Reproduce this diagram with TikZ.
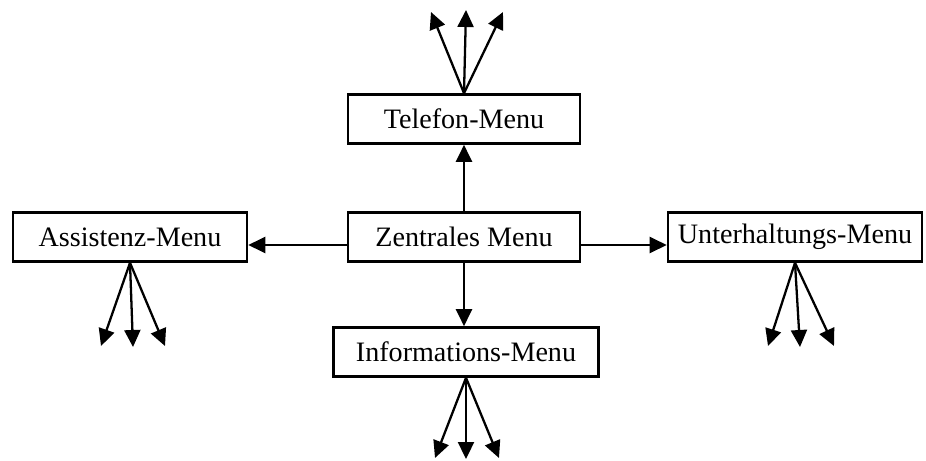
\documentclass[tikz,border=0pt]{standalone}
\usepackage{fontspec}
\setmainfont{Liberation Serif}
\usetikzlibrary{arrows.meta}

\tikzset{
  menubox/.style={draw, line width=1.5pt, minimum height=0.98cm, inner sep=2pt,
    font=\fontsize{16}{18}\selectfont},
  pfeil/.style={line width=1.3pt, -{Triangle[length=0.34cm,width=0.32cm]}}
}

\begin{document}
\begin{tikzpicture}[x=0.02cm, y=-0.02cm]
			\useasboundingbox (0,0) rectangle (926,460);
			
			% Draw the menu boxes
			\node[menubox, minimum width=4.64cm] (zentral) at (464,237) {Zentrales Menu};
			\node[menubox, minimum width=4.64cm] (telefon) at (464,119) {Telefon-Menu};
			\node[menubox, minimum width=5.3cm] (info) at (466,352) {Informations-Menu};
			\node[menubox, minimum width=4.68cm] (assist) at (130,237) {Assistenz-Menu};
			\node[menubox, minimum width=5.08cm] (unter) at (795,237) {Unterhaltungs-Menu};
			
			% Arrows from the central menu
			\coordinate (zl) at ([yshift=-0.16cm]zentral.west);
			\coordinate (zr) at ([yshift=-0.16cm]zentral.east);
			\draw[pfeil] (zentral) -- (telefon);
			\draw[pfeil] (zentral.south) -- (zentral.south |- info.north);
			\draw[pfeil] (zl) -- (zl -| assist.east);
			\draw[pfeil] (zr) -- (zr -| unter.west);
			
			% Start and end points of the fans
			\coordinate (tel0) at (telefon.north);
			\coordinate (tel1) at (431,12);
			\coordinate (tel2) at (466,10);
			\coordinate (tel3) at (503,12);
			\coordinate (inf0) at (info.south);
			\coordinate (inf1) at (435,458);
			\coordinate (inf2) at (466,459);
			\coordinate (inf3) at (499,458);
			\coordinate (ass0) at (assist.south);
			\coordinate (ass1) at (101,346);
			\coordinate (ass2) at (133,347);
			\coordinate (ass3) at (165,346);
			\coordinate (unt0) at (unter.south);
			\coordinate (unt1) at (768,346);
			\coordinate (unt2) at (800,347);
			\coordinate (unt3) at (834,346);
			
			% Draw the fans of sub menus
			\foreach \m in {tel,inf,ass,unt}
			\foreach \i in {1,2,3}
			\draw[pfeil] (\m0) -- (\m\i);
			
		\end{tikzpicture}
\end{document}
